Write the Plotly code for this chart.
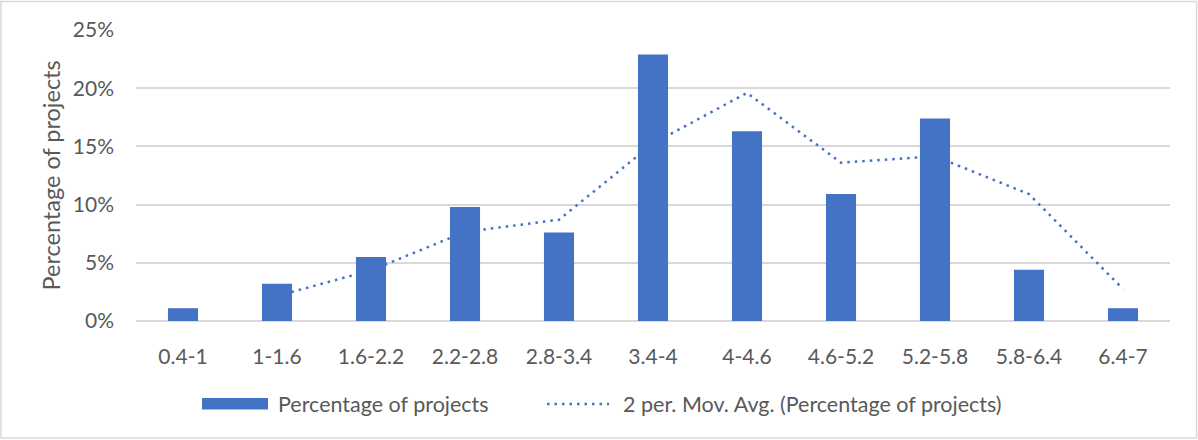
import pandas as pd
import plotly.graph_objects as go

# Effort bins and share of projects in each bin (%)
categories = ["0.4-1", "1-1.6", "1.6-2.2", "2.2-2.8", "2.8-3.4", "3.4-4",
              "4-4.6", "4.6-5.2", "5.2-5.8", "5.8-6.4", "6.4-7"]
share_pct = [1.1, 3.2, 5.5, 9.8, 7.6, 22.9, 16.3, 10.9, 17.4, 4.4, 1.1]

# 2-period moving average trendline of the bar series
moving_avg = pd.Series(share_pct).rolling(2).mean().tolist()

y_ticks = [0, 5, 10, 15, 20, 25]
y_tick_text = ["0%", "5%", "10%", "15%", "20%", "25%"]

bar_name = "Percentage of projects"
line_name = "2 per. Mov. Avg. (Percentage of projects)"

BLUE = "#4472C4"
TEXT = "#595959"
GRID = "#D9D9D9"
FONT = "Lato"

W, H = 1198, 440
ML, MR, MT, MB = 136, 28, 30, 119
PW, PH = W - ML - MR, H - MT - MB


def px_x(p):
    return (p - ML) / PW


def px_y(p):
    return 1 - (p - MT) / PH


fig = go.Figure()
fig.add_trace(go.Bar(x=categories, y=share_pct, name=bar_name,
                     marker=dict(color=BLUE, line=dict(width=0)),
                     showlegend=False))
fig.add_trace(go.Scatter(x=categories, y=moving_avg, name=line_name,
                         mode="lines",
                         line=dict(color=BLUE, width=2.5, dash="2.5px,5px"),
                         showlegend=False))

shapes = [
    # chart border
    dict(type="rect", xref="paper", yref="paper",
         x0=px_x(1), x1=px_x(1196.5), y0=px_y(438), y1=px_y(1.5),
         line=dict(color=GRID, width=1.5), fillcolor="rgba(0,0,0,0)", layer="below"),
    # legend key: bar series
    dict(type="rect", xref="paper", yref="paper",
         x0=px_x(202), x1=px_x(268), y0=px_y(409.5), y1=px_y(398),
         line=dict(width=0), fillcolor=BLUE),
    # legend key: moving average
    dict(type="line", xref="paper", yref="paper",
         x0=px_x(547), x1=px_x(609), y0=px_y(404), y1=px_y(404),
         line=dict(color=BLUE, width=2.5, dash="2.5px,5px")),
]

annotations = [
    dict(text="Percentage of projects", xref="paper", yref="paper",
         x=px_x(50), y=0.5, textangle=-90, showarrow=False,
         xanchor="center", yanchor="middle",
         font=dict(family=FONT, size=23.5, color=TEXT)),
    dict(text=bar_name, xref="paper", yref="paper",
         x=px_x(276), y=px_y(404), showarrow=False,
         xanchor="left", yanchor="middle",
         font=dict(family=FONT, size=21.5, color=TEXT)),
    dict(text=line_name, xref="paper", yref="paper",
         x=px_x(621), y=px_y(404), showarrow=False,
         xanchor="left", yanchor="middle",
         font=dict(family=FONT, size=21.5, color=TEXT)),
]

fig.update_layout(
    width=W, height=H,
    margin=dict(l=ML, r=MR, t=MT, b=MB),
    paper_bgcolor="white", plot_bgcolor="white",
    bargap=0.68,
    shapes=shapes,
    annotations=annotations,
    font=dict(family=FONT, color=TEXT),
)
fig.update_xaxes(
    type="category", showgrid=False, showline=False, zeroline=False,
    ticks="", ticklabelstandoff=21,
    tickfont=dict(family=FONT, size=21, color=TEXT),
)
fig.update_yaxes(
    range=[0, 25], tickvals=y_ticks, ticktext=y_tick_text,
    showgrid=True, gridcolor=GRID, gridwidth=1.5,
    zeroline=True, zerolinecolor=GRID, zerolinewidth=1.5,
    showline=False, ticks="", ticklabelstandoff=21,
    tickfont=dict(family=FONT, size=21, color=TEXT),
)

fig.write_html("out.html")
